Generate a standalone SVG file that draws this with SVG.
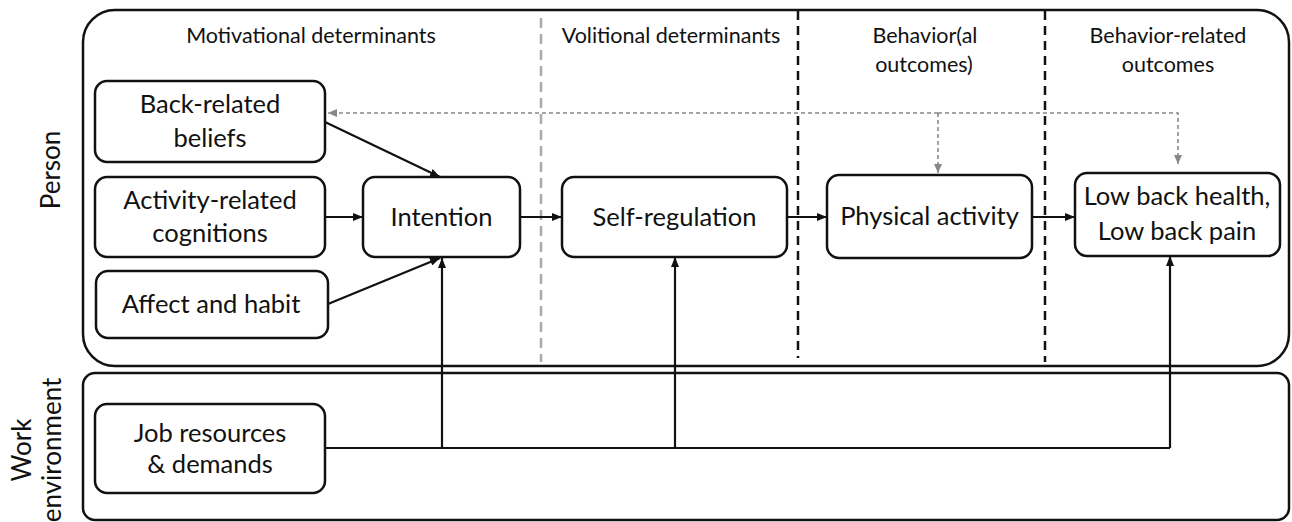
<svg xmlns="http://www.w3.org/2000/svg" width="1292" height="522" viewBox="0 0 1292 522">
<style>
text{font-family:Lato,"Liberation Sans",sans-serif;fill:#111;text-anchor:middle}
.hd{font-size:21.5px}
.nd{font-size:25.5px}
.side{font-size:26px}
.frame{fill:none;stroke:#111;stroke-width:2.5}
.node{fill:#fff;stroke:#111;stroke-width:2.5}
.arr{fill:none;stroke:#111;stroke-width:2.2}
.fb{fill:none;stroke:#888;stroke-width:1.6;stroke-dasharray:4 3}
.dk{fill:none;stroke:#111;stroke-width:2.5;stroke-dasharray:9 6}
.lt{fill:none;stroke:#aaa;stroke-width:2.5;stroke-dasharray:10 6}
</style>
<defs>
<marker id="ah" markerUnits="userSpaceOnUse" markerWidth="10" markerHeight="8" refX="10" refY="4" orient="auto">
<path d="M0,0 L10,4 L0,8 Z" fill="#111"/>
</marker>
<marker id="ag" markerUnits="userSpaceOnUse" markerWidth="9" markerHeight="8" refX="9" refY="4" orient="auto">
<path d="M0,0 L9,4 L0,8 Z" fill="#888"/>
</marker>
</defs>
<rect width="1292" height="522" fill="#fff"/>
<g id="frames">
<rect class="frame" x="83" y="10" width="1206" height="356" rx="32"/>
<rect class="frame" x="83" y="373" width="1206" height="147" rx="12"/>
</g>
<g id="labels">
<text class="side" transform="translate(60,170) rotate(-90)">Person</text>
<text class="side" transform="translate(31,450) rotate(-90)">Work</text>
<text class="side" transform="translate(61,450) rotate(-90)">environment</text>
<text class="hd" x="311" y="43">Motivational determinants</text>
<text class="hd" x="671" y="43">Volitional determinants</text>
<text class="hd" x="925" y="43">Behavior(al</text>
<text class="hd" x="924" y="72">outcomes)</text>
<text class="hd" x="1168" y="43">Behavior-related</text>
<text class="hd" x="1168" y="72">outcomes</text>
</g>
<g id="dividers">
<line class="lt" x1="541" y1="18" x2="541" y2="362"/>
<line class="dk" x1="798" y1="11" x2="798" y2="358"/>
<line class="dk" x1="1045" y1="11" x2="1045" y2="362"/>
</g>
<g id="connectors">
<path class="fb" d="M938,113 H328" marker-end="url(#ag)"/>
<path class="fb" d="M938,113 H1178 V164" marker-end="url(#ag)"/>
<path class="fb" d="M938,113 V173" marker-end="url(#ag)"/>
<path class="arr" d="M325,122 L440,177" marker-end="url(#ah)"/>
<path class="arr" d="M325,217 L363,217" marker-end="url(#ah)"/>
<path class="arr" d="M328,304 L440,258" marker-end="url(#ah)"/>
<path class="arr" d="M520,217 L562,217" marker-end="url(#ah)"/>
<path class="arr" d="M787,217 L827,217" marker-end="url(#ah)"/>
<path class="arr" d="M1032,217 L1075,217" marker-end="url(#ah)"/>
<path class="arr" d="M325,448 H1170"/>
<path class="arr" d="M442,448 V258" marker-end="url(#ah)"/>
<path class="arr" d="M675,448 V257" marker-end="url(#ah)"/>
<path class="arr" d="M1170,448 V256" marker-end="url(#ah)"/>
</g>
<g id="back-beliefs">
<rect class="node" x="95" y="81" width="230" height="81" rx="12"/>
<text class="nd" x="210" y="113">Back-related</text>
<text class="nd" x="210" y="147">beliefs</text>
</g>
<g id="activity-cognitions">
<rect class="node" x="95" y="177" width="230" height="80" rx="12"/>
<text class="nd" x="210" y="209">Activity-related</text>
<text class="nd" x="210" y="242">cognitions</text>
</g>
<g id="affect-habit">
<rect class="node" x="96" y="271" width="232" height="67" rx="12"/>
<text class="nd" x="211" y="313">Affect and habit</text>
</g>
<g id="intention">
<rect class="node" x="363" y="177" width="157" height="80" rx="12"/>
<text class="nd" x="441.5" y="226">Intention</text>
</g>
<g id="self-regulation">
<rect class="node" x="562" y="177" width="225" height="80" rx="12"/>
<text class="nd" x="674.5" y="226">Self-regulation</text>
</g>
<g id="physical-activity">
<rect class="node" x="827" y="175" width="205" height="83" rx="12"/>
<text class="nd" x="929.5" y="225">Physical activity</text>
</g>
<g id="low-back">
<rect class="node" x="1075" y="173" width="205" height="83" rx="12"/>
<text class="nd" x="1177" y="205">Low back health,</text>
<text class="nd" x="1177" y="240">Low back pain</text>
</g>
<g id="job-resources">
<rect class="node" x="95" y="404" width="230" height="89" rx="12"/>
<text class="nd" x="210" y="442">Job resources</text>
<text class="nd" x="210" y="473">&amp; demands</text>
</g>
</svg>
